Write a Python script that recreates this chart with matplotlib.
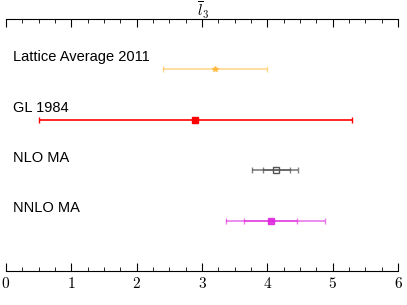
import matplotlib
matplotlib.use("Agg")
import matplotlib.pyplot as plt
from matplotlib.ticker import MultipleLocator

plt.rcParams["mathtext.fontset"] = "cm"
plt.rcParams["font.family"] = ["Liberation Sans", "DejaVu Sans"]

# -----------------------------------
# DATA
# -----------------------------------
labels = ["Lattice Average 2011", "GL 1984", "NLO MA", "NNLO MA"]
centers = [3.2, 2.9, 4.13, 4.05]
err_lo_total = [0.8, 2.4, 0.36, 0.69]
err_hi_total = [0.8, 2.4, 0.34, 0.83]
err_lo_stat = [None, None, 0.19, 0.40]
err_hi_stat = [None, None, 0.21, 0.40]
colors = ["#ffb733", "#ff0000", "#555555", "#dd22dd"]
markers = ["*", "s", "s", "s"]
filled = [True, True, False, True]
alphas = [0.55, 1.0, 0.75, 0.6]
ypos = [4, 3, 2, 1]
xticks = [0, 1, 2, 3, 4, 5, 6]

# -----------------------------------
# PLOT
# -----------------------------------
fig = plt.figure(figsize=(4.07, 3.05), dpi=100)
ax = fig.add_axes([0.0147, 0.1115, 0.9633, 0.8262])

for i in range(len(labels)):
    c = colors[i]
    ax.errorbar(centers[i], ypos[i],
                xerr=[[err_lo_total[i]], [err_hi_total[i]]],
                fmt="none", ecolor=c, elinewidth=1.2, capsize=2.5,
                capthick=1.0, alpha=alphas[i])
    if err_lo_stat[i] is not None:
        ax.errorbar(centers[i], ypos[i],
                    xerr=[[err_lo_stat[i]], [err_hi_stat[i]]],
                    fmt="none", ecolor=c, elinewidth=1.2, capsize=2.5,
                    capthick=1.0, alpha=alphas[i])
    ax.plot(centers[i], ypos[i], marker=markers[i], markersize=4,
            color=c, markerfacecolor=c if filled[i] else "none",
            markeredgewidth=1.0, linestyle="none", alpha=min(1, alphas[i] + 0.25))
    ax.text(0.1, ypos[i] + 0.24, labels[i], fontsize=10.5, ha="left",
            va="center", color="black")

ax.set_xlim(0, 6)
ax.set_ylim(0, 5)
ax.set_yticks([])
ax.spines["left"].set_visible(False)
ax.spines["right"].set_visible(False)
ax.set_xticks(xticks, ["$%d$" % v for v in xticks], fontsize=11)
ax.xaxis.set_minor_locator(MultipleLocator(0.25))
ax.tick_params(axis="x", which="both", direction="in", top=True,
               labeltop=False)
ax.tick_params(axis="x", which="major", length=6)
ax.tick_params(axis="x", which="minor", length=3)

# title placed by hand so the bar stays inside the figure
fig.text(0.5, 1 - 16 / 305, r"$\overline{l}_3$", fontsize=11,
         ha="center", va="baseline")

plt.savefig("out.png", dpi=100)
